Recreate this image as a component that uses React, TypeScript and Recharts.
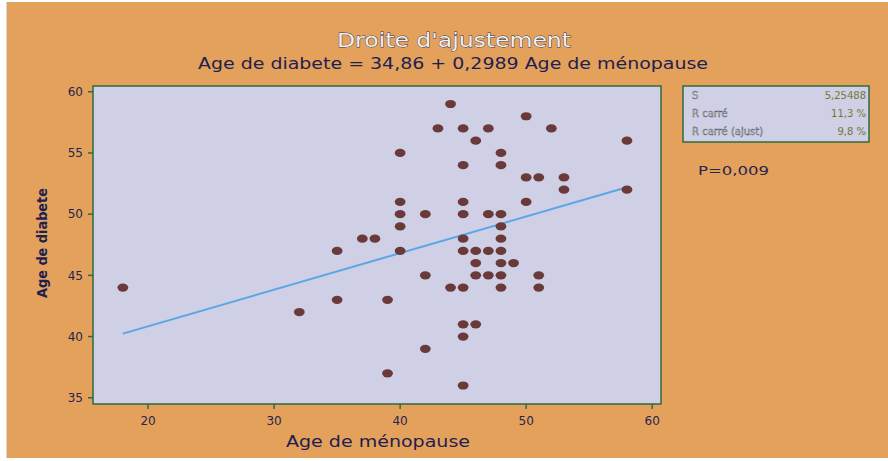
import { ScatterChart, Scatter, XAxis, YAxis, CartesianGrid, ReferenceArea } from 'recharts'

// ages (x = ménopause, y = diabète)
const menopauseAge = [
  18, 32, 35, 35, 37, 38, 39, 39,
  40, 40, 40, 40, 40,
  42, 42, 42,
  43, 44, 44,
  45, 45, 45, 45, 45, 45, 45, 45, 45, 45,
  46, 46, 46, 46, 46,
  47, 47, 47, 47,
  48, 48, 48, 48, 48, 48, 48, 48, 48,
  49,
  50, 50, 50,
  51, 51, 51,
  52, 53, 53, 58, 58,
]
const diabetesAge = [
  44, 42, 47, 43, 48, 48, 43, 37,
  55, 51, 50, 49, 47,
  50, 45, 39,
  57, 59, 44,
  57, 54, 51, 50, 48, 47, 44, 41, 40, 36,
  56, 47, 46, 45, 41,
  57, 50, 47, 45,
  55, 54, 50, 49, 48, 47, 46, 45, 44,
  46,
  58, 53, 51,
  53, 45, 44,
  57, 53, 52, 56, 52,
]

// fitted line end points: 34,86 + 0,2989 x at x = 18 and x = 58
const fitX = [18, 58]
const fitY = [40.24, 52.2]

const xTicks = [20, 30, 40, 50, 60]
const yTicks = [35, 40, 45, 50, 55, 60]

const statLabels = ['S', 'R carré', 'R carré (ajust)']
const statValues = ['5,25488', '11,3 %', '9,8 %']

const points = menopauseAge.map((x, i) => ({ x, y: diabetesAge[i] }))
const fitLine = fitX.map((x, i) => ({ x, y: fitY[i] }))

const X_DOMAIN: [number, number] = [15.63, 60.7]
const Y_DOMAIN: [number, number] = [34.49, 60.47]

const ORANGE = '#E4A15C'
const PLOT_BG = '#CFCFE6'
const GREEN = '#2F6B3E'
const DOT = '#6A3A3B'
const TEXT = '#262450'

const Dot = (props: any) => (
  <ellipse cx={props.cx} cy={props.cy} rx={5.4} ry={4.1} fill={DOT} />
)

export default function App() {
  return (
    <div style={{ position: 'fixed', left: 0, top: 0, width: 888, height: 461, background: '#fff' }}>
      <div style={{ position: 'absolute', left: 6, top: 2, width: 882, height: 456, background: ORANGE, borderLeft: '1px solid #d6d6d6' }} />
      <div style={{ position: 'absolute', left: 0, top: 0 }}>
        <ScatterChart
          width={888}
          height={461}
          margin={{ top: 86, right: 227, bottom: 27, left: 53 }}
        >
          <CartesianGrid horizontal={false} vertical={false} fill={PLOT_BG} />
          <XAxis
            type="number"
            dataKey="x"
            domain={X_DOMAIN}
            ticks={xTicks}
            allowDataOverflow
            interval={0}
            height={30}
            tickSize={5}
            tickMargin={7}
            axisLine={false}
            tickLine={{ stroke: GREEN, strokeWidth: 1.5 }}
            tick={{ fill: TEXT, fontSize: 12, fontFamily: 'DejaVu Sans' }}
          />
          <YAxis
            type="number"
            dataKey="y"
            domain={Y_DOMAIN}
            ticks={yTicks}
            allowDataOverflow
            interval={0}
            width={40}
            tickSize={5}
            tickMargin={5}
            axisLine={false}
            tickLine={{ stroke: GREEN, strokeWidth: 1.5 }}
            tick={{ fill: TEXT, fontSize: 12, fontFamily: 'DejaVu Sans' }}
          />
          <ReferenceArea
            x1={X_DOMAIN[0]}
            x2={X_DOMAIN[1]}
            y1={Y_DOMAIN[0]}
            y2={Y_DOMAIN[1]}
            fill="none"
            stroke={GREEN}
            strokeWidth={1.5}
            ifOverflow="visible"
          />
          <Scatter
            data={fitLine}
            line={{ stroke: '#5AA6E6', strokeWidth: 2 }}
            lineType="joint"
            shape={() => <g />}
            isAnimationActive={false}
          />
          <Scatter data={points} shape={Dot} isAnimationActive={false} />
        </ScatterChart>
      </div>
      <svg
        width={888}
        height={461}
        style={{ position: 'absolute', left: 0, top: 0, pointerEvents: 'none' }}
        fontFamily="DejaVu Sans"
      >
        <text x={454} y={47} textAnchor="middle" fontSize={20} textLength={234} lengthAdjust="spacingAndGlyphs"
          fill="#f2f0ea" stroke="#303060" strokeWidth={0.8} paintOrder="stroke">
          Droite d'ajustement
        </text>
        <text x={453} y={69} textAnchor="middle" fontSize={16} textLength={510} lengthAdjust="spacingAndGlyphs" fill="#1e2050">
          Age de diabete = 34,86 + 0,2989 Age de ménopause
        </text>
        <text x={378} y={447} textAnchor="middle" fontSize={15} textLength={184} lengthAdjust="spacingAndGlyphs" fill="#1e2050">
          Age de ménopause
        </text>
        <text x={47} y={243} textAnchor="middle" fontSize={14} fontWeight="bold" textLength={110} lengthAdjust="spacingAndGlyphs"
          fill="#1e2050" transform="rotate(-90 47 243)">
          Age de diabete
        </text>
        <rect x={683} y={86} width={186} height={56} fill={PLOT_BG} stroke={GREEN} strokeWidth={1.5} />
        {statLabels.map((s, i) => (
          <g key={s}>
            <text x={692} y={99 + i * 18} fontSize={10} fill="#c8d080" stroke="#404080" strokeWidth={0.35}>
              {s}
            </text>
            <text x={866} y={99 + i * 18} fontSize={10} textAnchor="end" fill="#505040" stroke="#c8d080" strokeWidth={0.25}>
              {statValues[i]}
            </text>
          </g>
        ))}
        <text x={698} y={175} fontSize={13} textLength={71} lengthAdjust="spacingAndGlyphs" fill={TEXT}>
          P=0,009
        </text>
      </svg>
    </div>
  )
}
